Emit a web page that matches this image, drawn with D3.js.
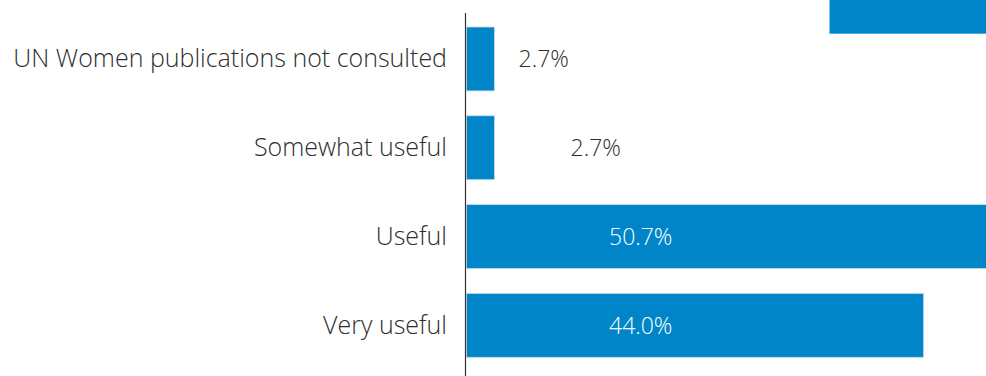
<!DOCTYPE html>
<html>
<head>
<meta charset="utf-8">
<script src="https://cdn.jsdelivr.net/npm/d3@7"></script>
<style>
  html, body { margin: 0; padding: 0; background: #fff; }
  svg { display: block; }
</style>
</head>
<body>
<svg id="chart" width="986" height="376"></svg>
<script>
// Usefulness of UN Women publications (share of respondents, %)
const categories = [
  "UN Women publications not consulted",
  "Somewhat useful",
  "Useful",
  "Very useful"
];
const values = [2.7, 2.7, 50.7, 44.0];
const valueLabels = ["2.7%", "2.7%", "50.7%", "44.0%"];

const W = 986, H = 376;
const barColor = "#0085c9";
const textColor = "#2e2e2e";
const font = "'Open Sans', sans-serif";

const svg = d3.select("#chart");

const x = d3.scaleLinear().domain([0, 50]).range([466.5, 986]);
const y = d3.scaleBand()
  .domain(categories)
  .range([27, 357.3])
  .paddingInner(0.28)
  .paddingOuter(0);

// legend swatch, top right
svg.append("rect")
  .attr("x", 829.5).attr("y", -20)
  .attr("width", 200).attr("height", 53.7)
  .attr("fill", barColor);

// bars
svg.append("g").selectAll("rect")
  .data(values)
  .join("rect")
  .attr("x", x(0))
  .attr("y", (d, i) => y(categories[i]))
  .attr("width", d => x(d) - x(0))
  .attr("height", y.bandwidth())
  .attr("fill", barColor)
  .attr("stroke", "#c9dcea")
  .attr("stroke-width", 0.8);

// vertical axis line
svg.append("line")
  .attr("x1", 465.5).attr("x2", 465.5)
  .attr("y1", 13).attr("y2", H)
  .attr("stroke", "#333")
  .attr("stroke-width", 1.2);

// category labels
svg.append("g").selectAll("text")
  .data(categories)
  .join("text")
  .attr("x", 447)
  .attr("y", d => y(d) + y.bandwidth() / 2 + 8.5)
  .attr("text-anchor", "end")
  .attr("font-family", font)
  .attr("font-weight", 300)
  .attr("font-size", 25)
  .attr("fill", textColor)
  .text(d => d);

// value labels: small values sit to the right of the bar, large ones inside
const labelX = (d, i) => d < 10 ? x(d) + (i === 0 ? 24 : 76) : x(0) + 142.5;
svg.append("g").selectAll("text")
  .data(values)
  .join("text")
  .attr("x", labelX)
  .attr("y", (d, i) => y(categories[i]) + y.bandwidth() / 2 + 8.5)
  .attr("font-family", font)
  .attr("font-weight", 300)
  .attr("font-size", 23)
  .attr("fill", d => d < 10 ? textColor : "#ffffff")
  .text((d, i) => valueLabels[i]);
</script>
</body>
</html>
